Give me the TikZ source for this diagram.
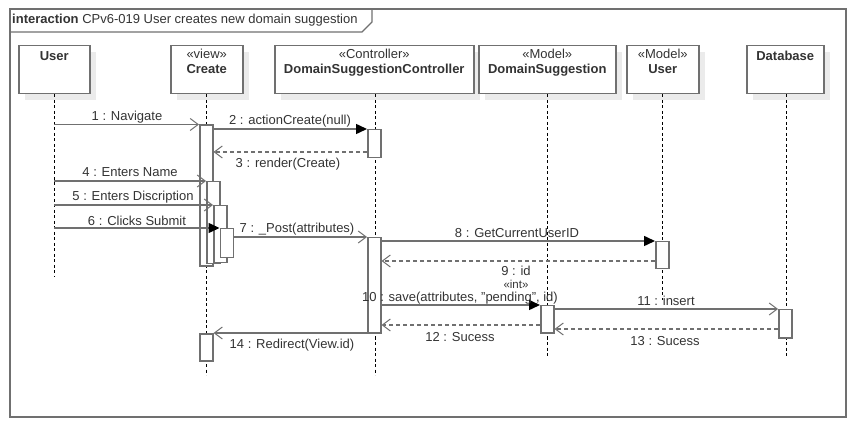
\documentclass[tikz,border=0pt]{standalone}
\usepackage{fontspec}
\setmainfont{Liberation Sans}
\usetikzlibrary{arrows.meta}
\definecolor{lgray}{HTML}{707070}
\definecolor{txt}{HTML}{333333}
\definecolor{shad}{HTML}{EBEBEB}
\tikzset{
  every node/.style={font=\fontsize{13}{15}\selectfont, text=txt, inner sep=0pt},
  headbox/.style={draw=lgray, line width=1.5pt, fill=white, minimum height=48pt, anchor=north west},
  shadowbox/.style={fill=shad, draw=none, minimum height=48pt, anchor=north west},
  headtxt/.style={anchor=north, align=center, font=\fontsize{13}{15}\selectfont},
  lifeline/.style={draw=black, line width=0.8pt, dash pattern=on 3pt off 2.5pt},
  actbar/.style={draw=lgray, line width=1.5pt, fill=white, minimum width=13pt, anchor=north west},
  msg/.style={draw=lgray, line width=1.5pt},
  synccall/.style={msg, -{Triangle[length=11pt,width=10pt,fill=black,color=black]}},
  asynccall/.style={msg, -{Straight Barb[length=8pt,width=12pt,line width=1pt]}},
  reply/.style={msg, dash pattern=on 4pt off 3pt, -{Straight Barb[length=8pt,width=12pt,line width=1pt]}},
  lbl/.style={anchor=center},
  stereo/.style={font=\fontsize{11.5}{13}\selectfont}
}
\begin{document}
\begin{tikzpicture}[x=1pt,y=-1pt]
\useasboundingbox (0,0) rectangle (856,427);
% frame
\draw[draw=lgray, line width=1.5pt] (10,9) rectangle (846,417);
\draw[draw=lgray, line width=1.2pt] (10,32) -- (362,32) -- (372,22) -- (372,9);
\node[anchor=west] (title) at (12,20.5) {\textbf{interaction} CPv6-019 User creates new domain suggestion};

% shadows
\foreach \xa/\w in {18/71,170/72,274/199,478/137,626/72,746/77}
  \node[shadowbox, minimum width=\w pt] at (\xa+7,52) {};

% headers
\node[headbox, minimum width=71pt] (hUser) at (18,45) {};
\node[headbox, minimum width=72pt] (hCreate) at (170,45) {};
\node[headbox, minimum width=199pt] (hCtrl) at (274,45) {};
\node[headbox, minimum width=137pt] (hDS) at (478,45) {};
\node[headbox, minimum width=72pt] (hUM) at (626,45) {};
\node[headbox, minimum width=77pt] (hDB) at (746,45) {};

\node[headtxt] (tUser) at ([yshift=-6pt]hUser.north) {\textbf{User}};
\node[headtxt] (tCreate) at ([yshift=-4pt]hCreate.north) {«view»\\\textbf{Create}};
\node[headtxt] (tCtrl) at ([yshift=-4pt]hCtrl.north) {«Controller»\\\textbf{DomainSuggestionController}};
\node[headtxt] (tDS) at ([yshift=-4pt]hDS.north) {«Model»\\\textbf{DomainSuggestion}};
\node[headtxt] (tUM) at ([yshift=-4pt]hUM.north) {«Model»\\\textbf{User}};
\node[headtxt] (tDB) at ([yshift=-6pt]hDB.north) {\textbf{Database}};

% lifelines
\coordinate (eUser) at (54,277);
\coordinate (eCreate) at (206,375);
\coordinate (eCtrl) at (375,375);
\coordinate (eDS) at (547,358);
\coordinate (eUM) at (662,300);
\coordinate (eDB) at (786,358);
\draw[lifeline] (hUser.south -| eUser) -- (eUser);
\draw[lifeline] (hCreate.south -| eCreate) -- (eCreate);
\draw[lifeline] (hCtrl.south -| eCtrl) -- (eCtrl);
\draw[lifeline] (hDS.south -| eDS) -- (eDS);
\draw[lifeline] (hUM.south -| eUM) -- (eUM);
\draw[lifeline] (hDB.south -| eDB) -- (eDB);

% activation bars
\node[actbar, minimum height=141pt] (a1) at (199,124.5) {};
\node[actbar, minimum height=82pt] (a2) at (206,181) {};
\node[actbar, minimum height=57pt] (a3) at (213,205) {};
\node[actbar, minimum height=29pt] (a4) at (219.5,228) {};
\node[actbar, minimum height=28pt] (c1) at (367,129) {};
\node[actbar, minimum height=95pt] (c2) at (367,237) {};
\node[actbar, minimum height=27pt] (m1) at (655,241) {};
\node[actbar, minimum height=27pt] (d1) at (540,305) {};
\node[actbar, minimum height=28pt] (b1) at (778,309) {};
\node[actbar, minimum height=27pt] (a5) at (199,333) {};

% message endpoints on the User lifeline
\coordinate (u1) at (54,124.5);
\coordinate (u4) at (54,181);
\coordinate (u5) at (54,205);
\coordinate (u6) at (54,228);

% messages
\draw[asynccall] (u1) -- (a1.north west);
\draw[synccall] (a1.east |- c1.north) -- (c1.north west);
\draw[reply] (c1.west |- 0,152) -- (a1.east |- 0,152);
\draw[asynccall] (u4) -- (a2.north west);
\draw[asynccall] (u5) -- (a3.north west);
\draw[synccall] (u6) -- (a4.north west);
\draw[asynccall] (a4.east |- c2.north) -- (c2.north west);
\draw[synccall] (c2.east |- m1.north) -- (m1.north west);
\draw[reply] (m1.west |- 0,261) -- (c2.east |- 0,261);
\draw[synccall] (c2.east |- d1.north) -- (d1.north west);
\draw[asynccall] (d1.east |- b1.north) -- (b1.north west);
\draw[reply] (d1.west |- 0,325) -- (c2.east |- 0,325);
\draw[reply] (b1.west |- 0,329) -- (d1.east |- 0,329);
\draw[asynccall] (c2.west |- a5.north) -- (a5.north east);

% labels
\node[lbl] (l1) at (127,117) {1 : Navigate};
\node[lbl] (l2) at (290,121) {2 : actionCreate(null)};
\node[lbl] (l3) at (288,164) {3 : render(Create)};
\node[lbl] (l4) at (130,172) {4 : Enters Name};
\node[lbl] (l5) at (133,197) {5 : Enters Discription};
\node[lbl] (l6) at (137,221) {6 : Clicks Submit};
\node[lbl] (l7) at (297,229) {7 : \_Post(attributes)};
\node[lbl] (l8) at (517,233) {8 : GetCurrentUserID};
\node[lbl] (l9) at (516,271) {9 : id};
\node[lbl, stereo] (l9s) at (516,284) {«int»};
\node[lbl] (l10) at (460,298) {10 : save(attributes, "pending", id)};
\node[lbl] (l11) at (666,300.5) {11 : insert};
\node[lbl] (l12) at (460,337) {12 : Sucess};
\node[lbl] (l13) at (665,341) {13 : Sucess};
\node[lbl] (l14) at (292,345) {14 : Redirect(View.id)};
\end{tikzpicture}
\end{document}
